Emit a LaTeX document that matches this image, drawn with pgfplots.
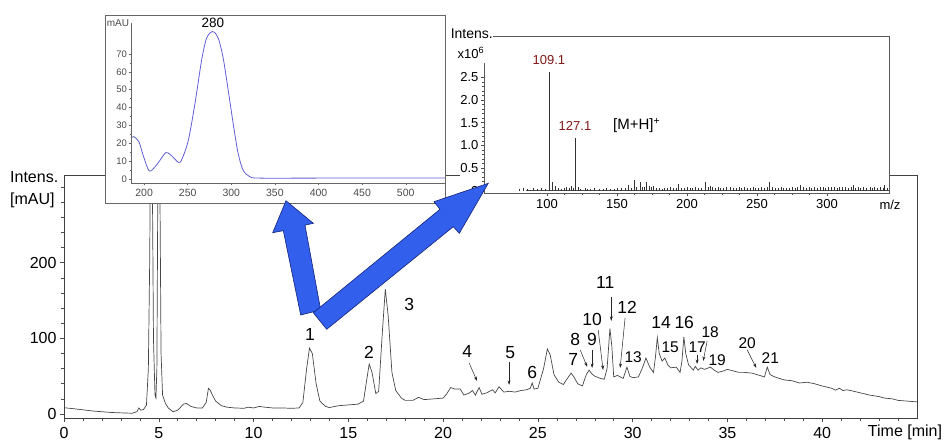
\documentclass[border=0pt]{standalone}
\usepackage{fontspec}
\setmainfont{Liberation Sans}
\usepackage{pgfplots}
\pgfplotsset{compat=1.18}
\usetikzlibrary{arrows.meta}
\definecolor{trace}{RGB}{70,70,70}
\definecolor{uvblue}{RGB}{95,95,215}
\definecolor{arrowblue}{RGB}{50,95,235}
\definecolor{arrowedge}{RGB}{20,35,120}
\definecolor{msred}{RGB}{130,25,25}
\newcommand{\fs}[1]{\fontsize{#1}{#1}\selectfont}
\begin{document}
\begin{tikzpicture}
\path[use as bounding box] (0,0) rectangle (944pt,441pt);
% ---------------- main chromatogram ----------------
\begin{axis}[at={(64pt,23pt)},anchor=south west,scale only axis,
  width=853pt,height=243pt,
  xmin=0,xmax=45,ymin=-5.3,ymax=316,
  xtick={0,5,...,40}, minor xtick={1,...,44},
  ytick={0,100,200}, minor ytick={20,40,...,300},
  tick align=outside, tick pos=left,
  major tick length=4pt, minor tick length=3pt,
  every tick/.style={black!70,line width=0.5pt},
  axis line style={black!75,line width=0.6pt},
  tick label style={font=\fs{16}},
  xticklabel style={yshift=-1.5pt},
  /pgf/number format/assume math mode=true,
  clip=true]
\addplot[trace,line width=0.7pt] table {
0 8.3
0.5 7
1 5.5
1.5 4
2 3
2.5 2
3 1.5
3.6 1
3.85 3
3.95 8
4.05 5
4.2 6
4.35 12
4.45 60
4.52 200
4.58 420
4.65 350
4.72 100
4.8 25
4.85 21
4.9 60
4.95 300
5.0 400
5.06 300
5.12 80
5.2 25
5.35 14
5.5 8
5.75 3
6.0 5
6.3 13
6.45 14
6.7 10
7.0 8
7.3 8
7.5 15
7.62 34
7.7 32
7.85 24
8.0 17
8.3 11
8.6 9
9.0 8
9.5 7.5
9.7 9
10.0 8
10.3 10
10.6 9
11 8
11.5 8
12 7.5
12.4 8
12.6 15
12.8 60
12.95 87
13.1 80
13.3 40
13.5 17
13.8 10
14.0 8.5
14.5 11
15.0 12
15.5 13
15.8 17
16.0 50
16.1 66
16.25 55
16.45 27
16.6 30
16.8 110
16.95 165
17.1 130
17.3 55
17.5 31
17.8 21
18.0 18
18.4 18
18.7 22
19.0 19
19.5 20
20.0 21
20.2 27
20.4 35
20.6 33
20.9 33
21.1 25
21.4 28
21.55 31
21.7 25
21.9 35
22.05 26
22.3 28
22.6 32
22.75 28
22.95 36
23.2 29
23.5 30
23.8 29
24.1 31
24.4 32
24.6 34
24.7 41
24.8 33
25.0 34
25.3 60
25.5 86
25.65 78
25.85 52
26.1 42
26.35 39
26.5 45
26.75 54
26.9 49
27.1 40
27.35 37
27.55 52
27.7 58
27.85 53
28.0 50
28.3 47
28.5 46
28.65 60
28.8 113
28.9 90
29.0 49
29.2 51
29.5 47
29.7 62
29.85 50
30.0 48
30.3 49
30.5 60
30.7 74
30.9 62
31.1 55
31.2 75
31.3 101
31.4 80
31.55 70
31.7 74
31.85 65
32.0 61
32.3 62
32.5 55
32.6 70
32.7 102
32.8 80
32.95 65
33.2 58
33.3 63
33.45 58
33.6 61
33.8 59
34.1 62
34.3 58
34.5 55
34.8 57
35.0 59
35.3 57
35.6 55
35.9 55
36.3 54
36.7 51
36.95 49
37.1 62
37.25 52
37.5 49
38.0 45
38.4 44
38.8 41
39.2 42
39.6 40
40.0 37
40.5 34
40.7 31.5
40.9 34
41.1 31
41.3 32
41.5 31
42.0 28
42.5 25
43.0 23
43.3 21
43.7 20
44.0 18
44.5 17
45.0 16
};
% peak labels
\begin{scope}[every node/.style={font=\fs{17.5},inner sep=0pt}]
\node at (axis cs:12.98,104.6) {1};
\node at (axis cs:16.09,82.1) {2};
\node at (axis cs:18.21,144.4) {3};
\node at (axis cs:21.27,82.1) {4};
\node at (axis cs:23.54,80.8) {5};
\node at (axis cs:24.70,54.3) {6};
\node at (axis cs:26.86,71.5) {7};
\node at (axis cs:26.97,98.0) {8};
\node at (axis cs:27.86,98.0) {9};
\node at (axis cs:27.86,124.5) {10};
\node at (axis cs:28.55,173.5) {11};
\node at (axis cs:29.71,140.4) {12};
\node at (axis cs:31.50,120.5) {14};
\node at (axis cs:32.72,120.5) {16};
\end{scope}
\begin{scope}[every node/.style={font=\fs{15.5},inner sep=0pt}]
\node at (axis cs:30.03,75.5) {13};
\node at (axis cs:31.98,88.7) {15};
\node at (axis cs:33.40,88.7) {17};
\node at (axis cs:34.09,108.6) {18};
\node at (axis cs:34.46,71.5) {19};
\node at (axis cs:36.04,94.0) {20};
\node at (axis cs:37.26,74.2) {21};
\end{scope}
\begin{scope}[-{Stealth[length=4.5pt,width=3pt]},line width=0.5pt,black!85]
\draw (axis cs:21.37,67.5) -- (axis cs:21.79,43.7);
\draw (axis cs:23.48,68.9) -- (axis cs:23.48,38.4);
\draw (axis cs:27.23,84.8) -- (axis cs:27.60,62.3);
\draw (axis cs:27.86,84.8) -- (axis cs:27.86,60.9);
\draw (axis cs:28.18,111.3) -- (axis cs:28.44,58.3);
\draw (axis cs:28.87,155) -- (axis cs:28.87,123);
\draw (axis cs:29.60,127.2) -- (axis cs:29.34,60.9);
\draw (axis cs:33.40,78.1) -- (axis cs:33.40,66.2);
\draw (axis cs:33.93,96.7) -- (axis cs:33.72,70.2);
\draw (axis cs:36.04,84.8) -- (axis cs:36.52,60.9);
\end{scope}
\end{axis}
% ---------------- inset backgrounds ----------------
\begin{scope}[x=1pt,y=-1pt,yshift=441pt]
\draw[fill=white,draw=black!60,line width=0.6pt] (105,15) rectangle (445,203);
\fill[white] (460,28) rectangle (889,212);
\end{scope}
% ---------------- UV spectrum inset ----------------
\begin{axis}[at={(131pt,258pt)},anchor=south west,scale only axis,
  width=314pt,height=160pt,
  xmin=185,xmax=545,ymin=-2.24,ymax=87.3,
  axis line style={draw=none},
  xtick={200,250,...,500}, minor x tick num=4,
  ytick={0,10,...,70}, minor y tick num=1,
  tick align=outside, tick pos=left,
  major tick length=2.5pt, minor tick length=1.5pt,
  every tick/.style={black!60,line width=0.4pt},
  xticklabel style={font=\fs{10.5},text=black!70},
  yticklabel style={font=\fs{9.5},text=black!70,xshift=2pt},
  /pgf/number format/assume math mode=true,
  clip=false]
\addplot[uvblue,line width=0.8pt,smooth] table {
185 22.8
188 23.7
194 20.9
199.4 12.5
205.9 4.5
212.7 6.9
218.4 10.6
225 14.8
230.7 13.4
239.4 9.3
243.3 11
250.8 21.8
258.4 42.4
266 66.6
271.7 78.8
278.6 82.5
285 78.8
290.7 67.6
296.4 49.8
302.1 31.2
307.8 14.4
313.5 5
321.2 1.3
332.6 0.5
400 0.5
545 0.5
};
\node[font=\fs{13.5},inner sep=0pt] at (axis cs:279,87.3) {280};
\end{axis}
% ---------------- mass spectrum inset ----------------
\begin{axis}[at={(484pt,248pt)},anchor=south west,scale only axis,
  width=405pt,height=157pt,
  xmin=55,xmax=344.3,ymin=-0.053,ymax=3.413,
  axis line style={draw=none},
  xtick={100,150,...,300}, minor x tick num=3,
  ytick={0,0.5,1,1.5,2,2.5}, yticklabels={0,0.5,1.0,1.5,2.0,2.5},
  minor y tick num=4,
  tick align=outside, tick pos=left,
  major tick length=3pt, minor tick length=1.8pt,
  every tick/.style={black!70,line width=0.4pt},
  xticklabel style={font=\fs{13}},
  yticklabel style={font=\fs{13},xshift=1pt},
  /pgf/number format/assume math mode=true,
  clip=false]
\addplot[black!70,line width=0.4pt] coordinates {(85,0.005) (344,0.005)};
\addplot[ycomb,black!80,line width=0.5pt,mark=none] table {
80 0.03
83 0.05
86 0.04
88 0.02
90 0.06
93 0.03
96 0.05
99 0.04
101.4 2.62
103.4 0.18
105.7 0.10
108 0.05
110 0.04
112 0.06
114 0.08
116 0.05
117 0.10
119 0.06
120 1.16
122 0.07
124 0.04
127 0.05
129 0.03
131 0.04
134 0.05
137 0.03
140 0.04
142.6 0.06
145 0.04
148 0.03
150 0.05
153 0.06
156 0.05
158 0.12
160 0.06
162 0.24
164 0.08
166.4 0.20
168 0.07
169.5 0.09
171 0.18
173 0.10
174.5 0.08
176 0.10
178 0.06
180 0.05
182 0.04
184 0.06
186 0.05
188 0.07
190 0.05
192 0.06
193.6 0.15
196 0.06
198 0.05
200 0.07
202 0.05
204 0.06
206 0.08
208 0.05
210 0.06
213 0.18
215 0.08
216.5 0.10
218 0.07
220 0.06
222 0.08
224 0.06
226 0.05
228 0.07
231 0.08
233 0.06
235 0.05
237 0.07
239 0.06
241 0.08
243 0.05
245 0.06
247 0.07
249 0.05
251 0.06
253 0.08
255 0.06
257 0.07
259 0.18
261 0.07
263 0.06
265 0.05
267 0.07
269 0.06
271 0.06
273 0.05
275 0.07
277 0.06
279 0.08
281 0.13
283 0.07
285 0.06
287 0.08
289 0.06
291 0.07
293 0.06
295 0.08
297 0.07
299 0.06
301 0.08
303 0.09
305 0.07
307 0.06
309 0.08
311 0.07
313 0.09
315 0.06
317 0.08
318.6 0.12
320 0.06
322 0.07
324 0.06
326 0.08
328 0.06
330.7 0.08
332 0.05
334 0.07
336 0.06
338 0.08
340 0.06
341 0.13
343 0.05
};
\node[font=\fs{13},text=msred,inner sep=0pt] at (axis cs:101.4,2.88) {109.1};
\node[font=\fs{13},text=msred,inner sep=0pt] at (axis cs:120,1.43) {127.1};
\node[font=\fs{15},anchor=west,inner sep=0pt] at (axis cs:147.1,1.43) {[M+H]\textsuperscript{+}};
\end{axis}
% ---------------- lines, texts and block arrows ----------------
\begin{scope}[x=1pt,y=-1pt,yshift=441pt]
\draw[black!60,line width=0.6pt] (131,23) -- (131,183) -- (445,183);
\draw[black!65,line width=0.6pt] (493,36) -- (889,36) -- (889,193) -- (484,193) -- (484,63);
\node[font=\fs{10},text=black!70,inner sep=0pt] at (118,23) {mAU};
\node[font=\fs{14},anchor=east,inner sep=0pt] at (493,34) {Intens.};
\node[font=\fs{13},inner sep=0pt] at (471,53) {x10\textsuperscript{6}};
\node[font=\fs{13},inner sep=0pt] at (890,205) {m/z};
\node[font=\fs{16},anchor=west,inner sep=0pt] at (10,177) {Intens.};
\node[font=\fs{16},anchor=west,inner sep=0pt] at (10,200) {[mAU]};
\node[font=\fs{16},inner sep=0pt] at (905,432) {Time [min]};
\draw[fill=arrowblue,draw=arrowedge,line width=0.6pt,line join=miter]
  (300.7,315) -- (283.3,230.7) -- (272.7,232.7) -- (286,200.7) -- (313.3,223.3) -- (305,225.2) -- (320.7,310) -- cycle;
\draw[fill=arrowblue,draw=arrowedge,line width=0.6pt,line join=miter]
  (326.7,329.3) -- (313.3,312.7) -- (440,209.3) -- (434,201.7) -- (488.3,183.3) -- (459.3,233.3) -- (453.3,226.7) -- cycle;
\end{scope}
\end{tikzpicture}
\end{document}
